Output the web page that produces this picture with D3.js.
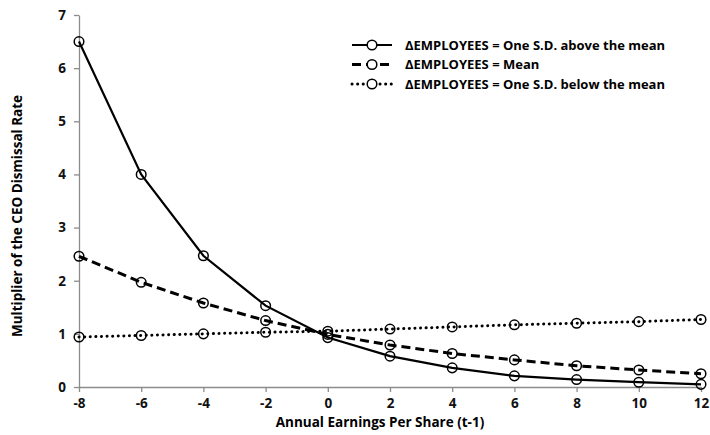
<!DOCTYPE html>
<html>
<head>
<meta charset="utf-8">
<script src="https://cdn.jsdelivr.net/npm/d3@7"></script>
<style>
  body { margin: 0; background: #fff; }
  text { font-family: "Open Sans", "Noto Sans", sans-serif; font-weight: bold; }
</style>
</head>
<body>
<svg id="chart"></svg>
<script>
// x values (annual EPS, t-1)
const eps = [-8, -6, -4, -2, 0, 2, 4, 6, 8, 10, 12];
const aboveMean = [6.5, 4.0, 2.47, 1.53, 0.93, 0.58, 0.36, 0.21, 0.14, 0.09, 0.05];
const atMean    = [2.46, 1.97, 1.58, 1.25, 0.99, 0.79, 0.63, 0.51, 0.40, 0.32, 0.25];
const belowMean = [0.94, 0.97, 1.0, 1.03, 1.05, 1.09, 1.13, 1.17, 1.20, 1.23, 1.27];
const seriesNames = [
  "\u0394EMPLOYEES = One S.D. above the mean",
  "\u0394EMPLOYEES = Mean",
  "\u0394EMPLOYEES = One S.D. below the mean"
];
const xTicks = [-8, -6, -4, -2, 0, 2, 4, 6, 8, 10, 12];
const yTicks = [0, 1, 2, 3, 4, 5, 6, 7];

const width = 710, height = 435;
const margin = {top: 15, right: 9, bottom: 48, left: 79};
const dashes = ["none", "9,5", "0.1,5.5"];
const caps = ["butt", "butt", "round"];
const widths = [2.2, 3, 3];

const svg = d3.select("#chart").attr("width", width).attr("height", height);
const chart = svg.append("g").attr("transform", `translate(${margin.left},${margin.top})`);
const innerW = width - margin.left - margin.right;
const innerH = height - margin.top - margin.bottom;

const xscale = d3.scaleLinear().domain([-8, 12]).range([0, innerW]);
const yscale = d3.scaleLinear().domain([0, 7]).range([innerH, 0]);

const fmt = d => String(d); // plain hyphen minus like the original
const xaxis = d3.axisBottom(xscale).tickValues(xTicks).tickFormat(fmt).tickSize(5).tickSizeOuter(0).tickPadding(6);
const yaxis = d3.axisLeft(yscale).tickValues(yTicks).tickFormat(fmt).tickSize(5).tickSizeOuter(0).tickPadding(8);

const gx = chart.append("g").attr("transform", `translate(0,${innerH})`).call(xaxis);
const gy = chart.append("g").call(yaxis);
[gx, gy].forEach(g => {
  g.selectAll("path, line").attr("stroke", "#8c8c8c").attr("stroke-width", 1.3);
  g.selectAll("text").attr("font-size", "13.5px").attr("fill", "#111");
});

svg.append("text")
  .attr("x", margin.left + innerW / 2 - 10)
  .attr("y", 427)
  .attr("text-anchor", "middle")
  .attr("font-size", "13.5px")
  .text("Annual Earnings Per Share (t-1)");

svg.append("text")
  .attr("transform", `translate(22,${margin.top + innerH / 2 + 15}) rotate(-90)`)
  .attr("text-anchor", "middle")
  .attr("font-size", "13.5px")
  .text("Multiplier of the CEO Dismissal Rate");

const allSeries = [aboveMean, atMean, belowMean];
const line = d3.line().x((d, i) => xscale(eps[i])).y(d => yscale(d));

allSeries.forEach((vals, s) => {
  chart.append("path")
    .datum(vals)
    .attr("d", line)
    .attr("fill", "none")
    .attr("stroke", "#000")
    .attr("stroke-width", widths[s])
    .attr("stroke-dasharray", dashes[s])
    .attr("stroke-linecap", caps[s]);
});
allSeries.forEach((vals, s) => {
  chart.append("g").selectAll("circle")
    .data(vals)
    .join("circle")
    .attr("cx", (d, i) => xscale(eps[i]))
    .attr("cy", d => yscale(d))
    .attr("r", 4.8)
    .attr("fill", "none")
    .attr("stroke", "#000")
    .attr("stroke-width", 1.5);
});

// legend
const legend = svg.append("g").attr("transform", "translate(352,45)");
seriesNames.forEach((name, s) => {
  const g = legend.append("g").attr("transform", `translate(0,${s * 19.5})`);
  g.append("line")
    .attr("x1", 0).attr("x2", 40)
    .attr("stroke", "#000")
    .attr("stroke-width", widths[s])
    .attr("stroke-dasharray", dashes[s])
    .attr("stroke-linecap", caps[s]);
  g.append("circle").attr("cx", 20).attr("r", 4.8)
    .attr("fill", "#fff").attr("stroke", "#000").attr("stroke-width", 1.5);
  g.append("text").attr("x", 53).attr("y", 4.5)
    .attr("font-size", "13px")
    .text(name);
});
</script>
</body>
</html>
